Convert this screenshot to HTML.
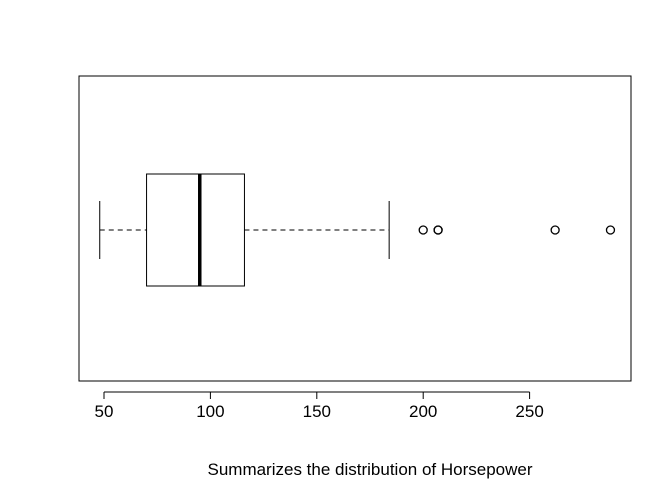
<!DOCTYPE html>
<html><head><meta charset="utf-8"><style>
html,body{margin:0;padding:0;background:#fff;}
svg{display:block;font-family:"Liberation Sans",Arial,sans-serif;}
</style></head><body>
<svg id="chart" width="672" height="480" viewBox="0 0 672 480">
<rect x="79" y="76" width="552" height="305" fill="none" stroke="#000" stroke-width="1"/>
<g id="axis"></g>
<g id="box"></g>
<text x="370" y="475" text-anchor="middle" font-size="17">Summarizes the distribution of Horsepower</text>
</svg>
<script>
const stats = [48, 70, 95, 116, 184]; // whisker low, Q1, median, Q3, whisker high
const outliers = [200, 207, 207, 262, 288];
const ticks = [50, 100, 150, 200, 250];
(function(){
const NS = "http://www.w3.org/2000/svg";
function x(v){ return 104 + (v - 50) * 2.128; }
function mk(tag, attrs, parent){
  const e = document.createElementNS(NS, tag);
  for (const k in attrs) e.setAttribute(k, attrs[k]);
  parent.appendChild(e); return e;
}
const ax = document.getElementById('axis');
const bx = document.getElementById('box');
const yAxis = 392;
const al = mk('line', {x1:x(ticks[0]), x2:x(ticks[ticks.length-1]), y1:yAxis, y2:yAxis, stroke:'#000'}, ax);


ticks.forEach(t => {
  const l = mk('line', {x1:x(t), x2:x(t), y1:yAxis, y2:yAxis+7, stroke:'#000'}, ax);
  
  
  const tx = mk('text', {x:x(t), y:417, 'text-anchor':'middle', 'font-size':'17'}, ax);
  tx.textContent = t;
  
  
});
const cy = 230, boxTop = 174, boxBot = 286, capT = 201, capB = 259;
const w1 = mk('line', {x1:x(stats[0]), x2:x(stats[1]), y1:cy, y2:cy, stroke:'#000', 'stroke-dasharray':'5,4'}, bx);


const w2 = mk('line', {x1:x(stats[3]), x2:x(stats[4]), y1:cy, y2:cy, stroke:'#000', 'stroke-dasharray':'5,4'}, bx);


const c1 = mk('line', {x1:x(stats[0]), x2:x(stats[0]), y1:capT, y2:capB, stroke:'#000'}, bx);


const c2 = mk('line', {x1:x(stats[4]), x2:x(stats[4]), y1:capT, y2:capB, stroke:'#000'}, bx);


const r = mk('rect', {x:x(stats[1]), y:boxTop, width:x(stats[3])-x(stats[1]), height:boxBot-boxTop, fill:'none', stroke:'#000'}, bx);


const m = mk('line', {x1:x(stats[2]), x2:x(stats[2]), y1:boxTop, y2:boxBot, stroke:'#000', 'stroke-width':3.5}, bx);


outliers.forEach(o => {
  const c = mk('circle', {cx:x(o), cy:cy, r:4, fill:'none', stroke:'#000', 'stroke-width':1.3}, bx);
  
  
});
})();
</script>
</body></html>
